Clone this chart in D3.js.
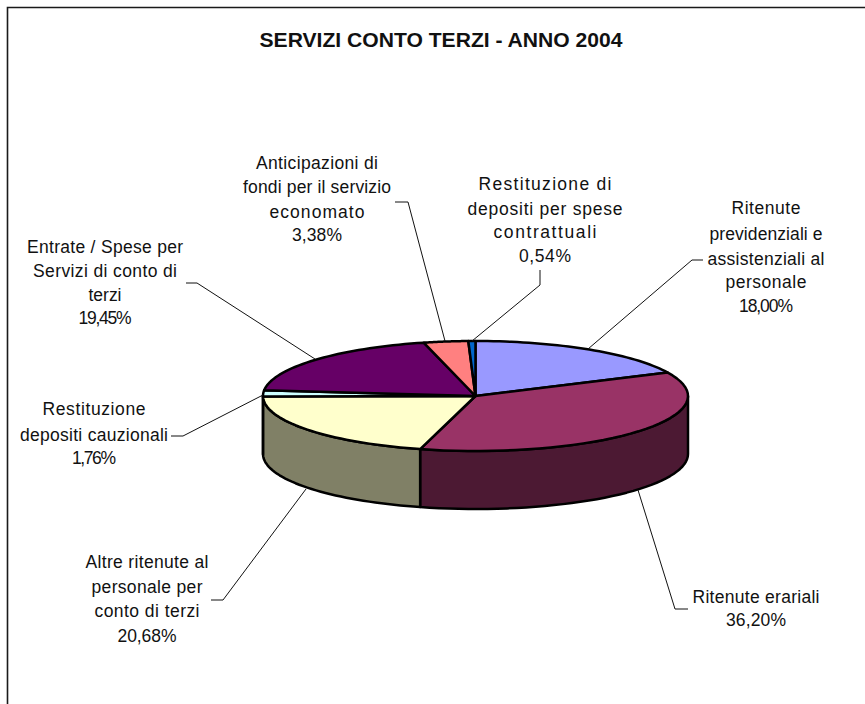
<!DOCTYPE html>
<html><head><meta charset="utf-8">
<script src="https://cdn.jsdelivr.net/npm/d3@7"></script>
<style>html,body{margin:0;padding:0;background:#fff}svg{display:block}text{font-family:"Liberation Sans",Arial,sans-serif;fill:#111}</style>
</head><body><svg id="c" width="865" height="704"></svg>
<script>
const titleText = "SERVIZI CONTO TERZI - ANNO 2004";
const categories = [
  ["Ritenute","previdenziali e","assistenziali al","personale"],
  ["Ritenute erariali"],
  ["Altre ritenute al","personale per","conto di terzi"],
  ["Restituzione","depositi cauzionali"],
  ["Entrate / Spese per","Servizi di conto di","terzi"],
  ["Anticipazioni di","fondi per il servizio","economato"],
  ["Restituzione di","depositi per spese","contrattuali"]
];
const values = [18.00,36.20,20.68,1.76,19.45,3.38,0.54];
const valueLabels = ["18,00%","36,20%","20,68%","1,76%","19,45%","3,38%","0,54%"];
const topColors = ["#9999FF","#993366","#FFFFCC","#CCFFFF","#660066","#FF8080","#0066CC"];
const sideColors = ["#4C4C80","#4C1933","#808066","#668080","#330033","#804040","#003366"];
// measured line widths, label centre x and baselines
const lineWidths = [[69,113,117,81,54],[127,60],[123,111,105,59],[103,148,44],[156,144,33,53],[122,148,95,50],[133,155,103,52]];
const labelX = [766,756,147,94,105,317,545];
const labelY = [[214,240,265,288,312],[603,626],[568,593,617,642],[415,441,464],[253,277,301,324],[169,193,218,241],[190,215,238,262]];
const leaders = [
  [[703,260],[692,260],[588,349]],
  [[688,609],[675,609],[638,490]],
  [[211,600],[223,600],[306,489]],
  [[171,436],[183,436],[263,395]],
  [[186,283],[197,283],[315,359]],
  [[395,202],[408,202],[445,341]],
  [[540,270],[540,285],[472,341]]
];

const svg = d3.select("#c");
svg.append("path").attr("d",d3.line()([[7.5,704],[7.5,7.5],[865,7.5]])).attr("fill","none").attr("stroke","#1a1a1a").attr("stroke-width",1.6);

svg.append("text").attr("x",441).attr("y",47).attr("text-anchor","middle")
  .attr("font-size",20).attr("font-weight","bold").attr("textLength",363).attr("lengthAdjust","spacingAndGlyphs").text(titleText);

const cx=475.5, cy=396, rx=212.5, ry=55, depth=58;
const arcs = d3.pie().sort(null).value(d=>d)(values);
const px = a=>cx+rx*Math.sin(a), py=a=>cy-ry*Math.cos(a);

const line = d3.line();
const g = svg.append("g");
arcs.forEach((d,i)=>{
  const a0=Math.max(d.startAngle,Math.PI/2), a1=Math.min(d.endAngle,3*Math.PI/2);
  if(a1<=a0) return;
  const as=d3.range(0,41).map(k=>a0+(a1-a0)*k/40);
  const pts=[...as.map(a=>[px(a),py(a)]),...as.slice().reverse().map(a=>[px(a),py(a)+depth])];
  g.append("path").attr("d",line(pts)+"Z").attr("fill",sideColors[i]).attr("stroke","#000").attr("stroke-width",2.5).attr("stroke-linejoin","round");
});
arcs.forEach((d,i)=>{
  const as=d3.range(0,41).map(k=>d.startAngle+(d.endAngle-d.startAngle)*k/40);
  const pts=[[cx,cy],...as.map(a=>[px(a),py(a)])];
  g.append("path").attr("d",line(pts)+"Z").attr("fill",topColors[i]).attr("stroke","#000").attr("stroke-width",2.5).attr("stroke-linejoin","round");
});
leaders.forEach(l=>svg.append("path").attr("d",line(l)).attr("fill","none").attr("stroke","#111").attr("stroke-width",1));
categories.forEach((c,i)=>{
  [...c,valueLabels[i]].forEach((s,k)=>svg.append("text").attr("text-anchor","middle").attr("font-size",17.5)
    .attr("x",labelX[i]).attr("y",labelY[i][k]).attr("textLength",lineWidths[i][k]).attr("lengthAdjust","spacing").text(s));
});
</script></body></html>
